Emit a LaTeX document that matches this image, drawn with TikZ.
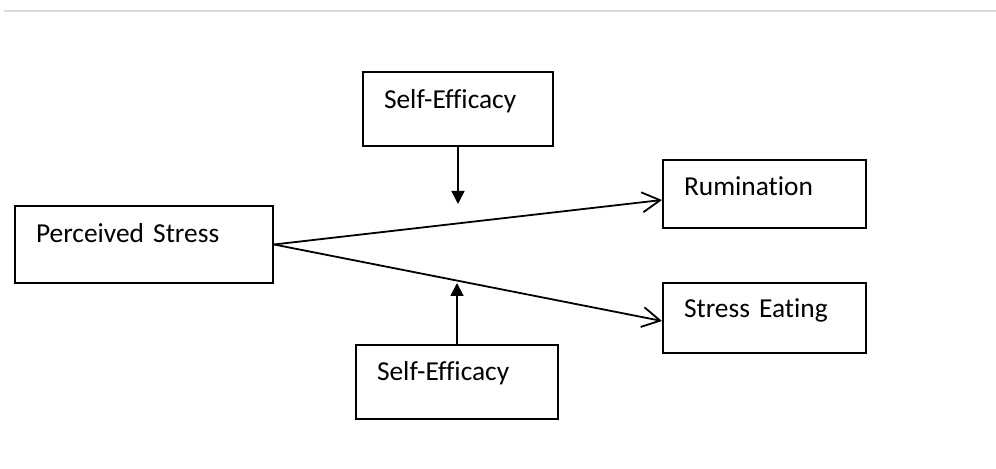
\documentclass[tikz,border=0pt]{standalone}
\usepackage{fontspec}
\setmainfont{Carlito}[Ligatures=NoCommon]
\usetikzlibrary{arrows.meta}

\begin{document}
\begin{tikzpicture}[x=0.5pt,y=-0.5pt,
  box/.style={draw,line width=1pt,anchor=north west,align=left,
    inner xsep=10.5pt,inner ysep=0pt,text height=18pt,
    font=\fontsize{13.7}{16}\selectfont},
  path/.style={line width=0.9pt,-{Straight Barb[length=9pt,width=10pt,line width=0.9pt]}},
  moder/.style={line width=0.9pt,-{Triangle[length=6.5pt,width=6.5pt]}}]
  \useasboundingbox (0,0) rectangle (996,469);
  \draw[line width=1pt,black!14] (4,11) -- (996,11);
  \node[box,text width=108pt,text height=18.5pt,text depth=20pt] (PS) at (14,205) {Perceived Stress};
  \node[box,text width=74pt,text height=18.5pt,text depth=18.5pt] (SEa) at (362,71) {Self-Efficacy};
  \node[box,text width=80.5pt,text depth=16pt] (Rum) at (662,159) {Rumination};
  \node[box,text width=80.5pt,text height=17.5pt,text depth=17.5pt] (Eat) at (662,282) {Stress Eating};
  \node[box,text width=80pt,text depth=19pt] (SEb) at (355,344) {Self-Efficacy};
  \coordinate (ma) at (457,204);
  \coordinate (mb) at (456,283);
  \draw[path] (PS.east) -- ([yshift=-3pt]Rum.west);
  \draw[path] (PS.east) -- ([yshift=-1.5pt]Eat.west);
  \draw[moder] (SEa.south) -- (SEa.south |- ma);
  \draw[moder] (SEb.north) -- (SEb.north |- mb);
\end{tikzpicture}
\end{document}
